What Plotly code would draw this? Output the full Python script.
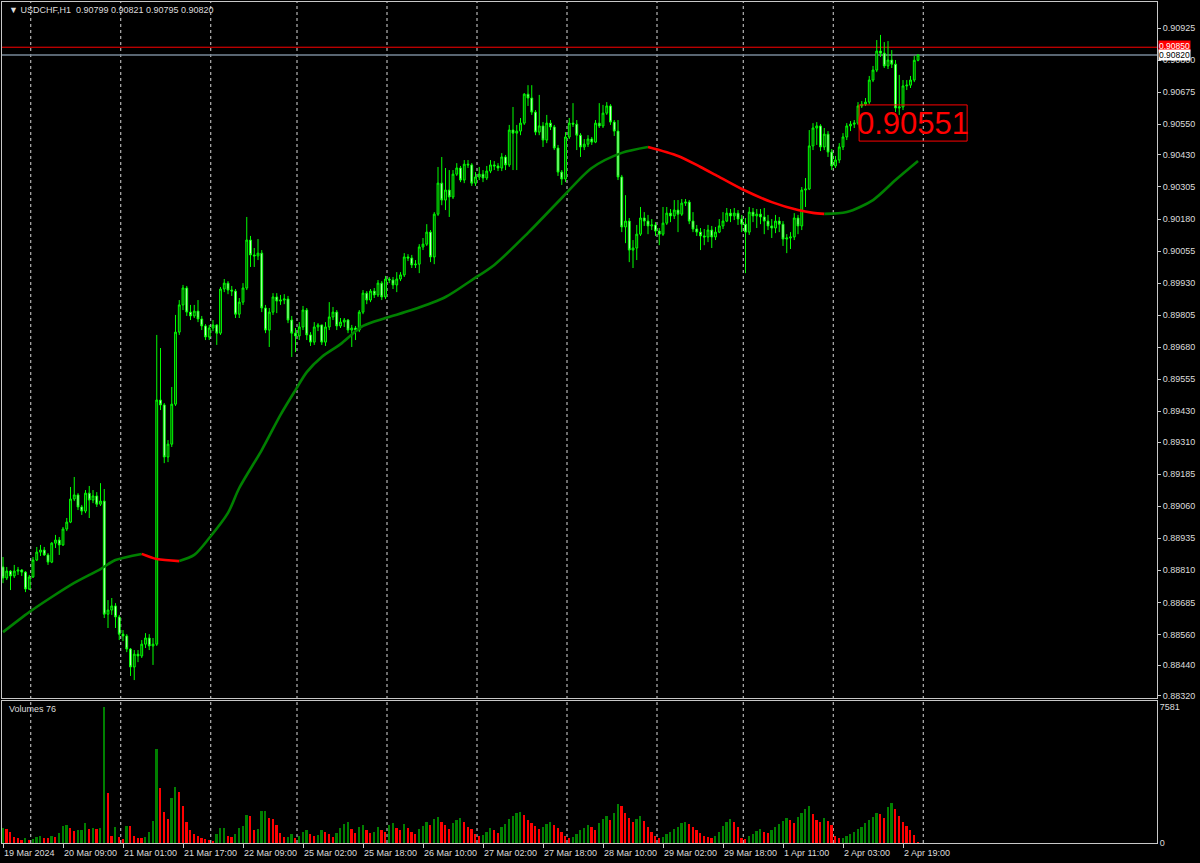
import plotly.graph_objects as go

# ---------------- data (prices in points, 1 point = 0.00001) ----------------
first_open_pts = 88823
closes_pts = [
    88780, 88807, 88788, 88807, 88811, 88803, 88737, 88784, 88850, 88881,
    88889, 88870, 88842, 88916, 88928, 88909, 88971, 88998, 89088, 89104,
    89057, 89041, 89111, 89084, 89100, 89068, 89080, 88639, 88655, 88671,
    88628, 88561, 88554, 88503, 88433, 88483, 88476, 88522, 88546, 88515,
    88522, 89474, 89455, 89252, 89302, 89458, 89739, 89845, 89911, 89817,
    89802, 89821, 89790, 89763, 89720, 89755, 89767, 89735, 89907, 89930,
    89903, 89899, 89809, 89856, 89911, 90098, 90040, 90036, 90047, 89833,
    89747, 89817, 89876, 89860, 89864, 89868, 89786, 89735, 89724, 89759,
    89825, 89728, 89700, 89759, 89767, 89700, 89759, 89798, 89817, 89763,
    89778, 89786, 89747, 89755, 89747, 89817, 89891, 89864, 89899, 89884,
    89930, 89876, 89946, 89942, 89923, 89946, 89962, 90032, 90028, 90001,
    90004, 90071, 90082, 90129, 90032, 90199, 90320, 90254, 90293, 90266,
    90355, 90379, 90332, 90394, 90391, 90320, 90344, 90355, 90340, 90367,
    90391, 90387, 90379, 90422, 90391, 90527, 90515, 90523, 90554, 90667,
    90652, 90597, 90519, 90543, 90488, 90554, 90539, 90457, 90363, 90336,
    90500, 90554, 90550, 90507, 90461, 90472, 90492, 90480, 90554, 90543,
    90593, 90621, 90558, 90523, 90344, 90149, 90172, 90059, 90067, 90121,
    90184, 90172, 90153, 90157, 90133, 90121, 90164, 90203, 90192, 90215,
    90199, 90242, 90246, 90172, 90141, 90129, 90114, 90110, 90137, 90110,
    90129, 90153, 90172, 90203, 90192, 90203, 90180, 90160, 90129, 90207,
    90192, 90199, 90188, 90172, 90153, 90145, 90172, 90160, 90102, 90106,
    90110, 90184, 90153, 90293, 90297, 90465, 90535, 90543, 90461, 90511,
    90441, 90387, 90410, 90461, 90500, 90543, 90550, 90554, 90621, 90628,
    90636, 90722, 90761, 90835, 90827, 90777, 90800, 90784, 90613, 90617,
    90699, 90702, 90722, 90799, 90820]
highs_pts = [
    88862, 88823, 88811, 88831, 88823, 88815, 88807, 88792, 88862, 88901,
    88909, 88901, 88877, 88920, 88948, 88940, 88979, 89014, 89135, 89174,
    89111, 89065, 89123, 89139, 89123, 89115, 89150, 89127, 88694, 88702,
    88682, 88636, 88577, 88561, 88507, 88499, 88499, 88538, 88565, 88561,
    88546, 89728, 89677, 89462, 89318, 89525, 89806, 89864, 89923, 89919,
    89845, 89845, 89864, 89802, 89770, 89767, 89786, 89770, 89915, 89946,
    89938, 89919, 89907, 89872, 89930, 90188, 90114, 90067, 90102, 90059,
    89845, 89833, 89891, 89891, 89884, 89887, 89880, 89802, 89755, 89778,
    89841, 89833, 89739, 89778, 89774, 89767, 89778, 89856, 89837, 89825,
    89794, 89794, 89790, 89767, 89763, 89825, 89903, 89899, 89907, 89911,
    89942, 89938, 89958, 89954, 89954, 89973, 89973, 90047, 90043, 90040,
    90020, 90082, 90106, 90160, 90137, 90207, 90383, 90422, 90379, 90371,
    90371, 90398, 90387, 90410, 90410, 90398, 90363, 90383, 90371, 90387,
    90410, 90406, 90398, 90437, 90430, 90547, 90617, 90547, 90574, 90671,
    90702, 90702, 90605, 90664, 90558, 90586, 90566, 90547, 90469, 90371,
    90519, 90574, 90632, 90566, 90515, 90492, 90507, 90500, 90566, 90632,
    90625, 90636, 90628, 90566, 90566, 90352, 90273, 90184, 90098, 90157,
    90227, 90207, 90196, 90180, 90168, 90145, 90227, 90227, 90219, 90254,
    90254, 90258, 90258, 90254, 90207, 90157, 90145, 90141, 90157, 90153,
    90149, 90180, 90207, 90223, 90219, 90223, 90215, 90196, 90184, 90227,
    90223, 90219, 90219, 90223, 90196, 90180, 90196, 90188, 90172, 90121,
    90129, 90203, 90196, 90305, 90340, 90527, 90554, 90558, 90550, 90535,
    90523, 90453, 90426, 90476, 90515, 90554, 90562, 90566, 90636, 90640,
    90652, 90738, 90777, 90878, 90898, 90870, 90874, 90839, 90800, 90742,
    90722, 90722, 90738, 90816, 90821]
lows_pts = [
    88760, 88772, 88733, 88780, 88792, 88788, 88725, 88733, 88780, 88846,
    88866, 88866, 88831, 88838, 88897, 88870, 88905, 88963, 88994, 89080,
    89045, 89026, 89033, 89014, 89072, 89057, 89061, 88624, 88585, 88636,
    88585, 88538, 88534, 88491, 88398, 88382, 88452, 88468, 88507, 88499,
    88441, 88515, 89435, 89228, 89232, 89291, 89451, 89728, 89825, 89802,
    89786, 89794, 89778, 89747, 89708, 89708, 89743, 89689, 89728, 89895,
    89887, 89880, 89794, 89794, 89845, 89903, 89993, 89993, 90020, 89817,
    89735, 89681, 89806, 89813, 89845, 89848, 89774, 89642, 89661, 89708,
    89747, 89708, 89685, 89689, 89743, 89689, 89685, 89747, 89786, 89747,
    89755, 89759, 89735, 89681, 89708, 89739, 89809, 89848, 89856, 89872,
    89876, 89864, 89868, 89930, 89907, 89895, 89938, 89954, 90016, 89989,
    89989, 89969, 90059, 90075, 90012, 90004, 90192, 90234, 90215, 90188,
    90258, 90348, 90324, 90320, 90379, 90309, 90309, 90332, 90324, 90332,
    90359, 90371, 90367, 90367, 90371, 90383, 90371, 90371, 90507, 90547,
    90621, 90586, 90507, 90507, 90461, 90476, 90527, 90449, 90348, 90313,
    90324, 90492, 90539, 90449, 90422, 90449, 90461, 90469, 90476, 90535,
    90535, 90586, 90547, 90504, 90332, 90129, 90086, 90012, 89989, 90020,
    90114, 90153, 90121, 90137, 90114, 90078, 90114, 90157, 90168, 90180,
    90129, 90192, 90231, 90160, 90129, 90114, 90059, 90078, 90090, 90067,
    90098, 90125, 90141, 90168, 90168, 90176, 90157, 90129, 89969, 90118,
    90168, 90145, 90160, 90121, 90137, 90106, 90125, 90129, 90075, 90047,
    90063, 90098, 90121, 90137, 90227, 90293, 90449, 90469, 90445, 90449,
    90422, 90371, 90379, 90398, 90449, 90488, 90523, 90535, 90547, 90613,
    90621, 90628, 90714, 90753, 90812, 90769, 90765, 90769, 90597, 90586,
    90605, 90683, 90691, 90714, 90795]
volumes = [
    850, 790, 620, 340, 280, 150, 300, 180, 250, 350,
    400, 300, 280, 400, 350, 570, 960, 990, 850, 680,
    700, 740, 1130, 800, 830, 810, 820, 7581, 2770, 400,
    900, 340, 200, 960, 950, 400, 300, 290, 340, 620,
    1250, 5260, 3060, 1750, 1360, 2500, 3110, 2830, 2040, 1190,
    750, 510, 400, 300, 200, 150, 120, 510, 830, 840,
    400, 350, 500, 830, 960, 1580, 1500, 700, 800, 1800,
    1810, 1400, 1320, 1000, 570, 340, 360, 500, 280,
    420, 600, 750, 520, 380, 450, 700, 620, 480, 350, 560, 820, 1050, 1150,
    760, 540, 880, 1020, 700, 560, 640,
    900, 750, 620, 980, 1120, 860, 700, 1050, 820, 640, 520, 760, 940, 1180,
    1020, 1350, 1450, 1200, 980, 760, 1100, 1300,
    1380, 1150, 900, 760, 500, 380, 450, 620, 840, 720, 560, 880, 1060, 1320,
    1480, 1650, 1720, 1540, 1280, 1100, 960, 780, 900, 1080,
    1200, 1000, 820, 640, 420, 300, 360, 520, 700, 860, 1020, 880, 700, 1100,
    1350, 1500, 1300, 1650, 2200, 2050, 1700, 1400, 1150, 1350, 1500, 1250,
    900, 600, 380, 260,
    340, 480, 620, 780, 900, 1100, 1200, 1050, 880, 720, 560, 420, 360, 300,
    420, 600, 950, 1200, 1350, 1150, 900, 300, 220, 400,
    520, 680, 760, 620, 540, 700, 880, 1050, 1250, 1400, 1300, 1100, 1450,
    1700, 1900, 2050, 1600, 1300, 1150, 1400, 1250, 1000,
    420, 260, 300, 380, 520, 640, 780, 900, 1100, 1300, 1450, 1700, 1600,
    1400, 2000, 2250, 1900, 1500, 1200, 950, 700, 450, 76]

# moving average (at these bar numbers)
ma_bars = [0, 7, 13, 19, 26, 30, 37, 41, 47, 51, 55, 60, 63, 69, 74, 78, 81, 85, 90, 96, 102,
           109, 118, 125, 131, 140, 149, 157, 165, 172, 180, 186, 190, 197, 205, 212, 216,
           219, 225, 232, 238, 244]
ma_values = [0.88569, 0.88647, 0.88706, 0.88761, 0.88815, 0.88850, 0.88874, 0.88854, 0.88846,
             0.88870, 0.88936, 0.89034, 0.89131, 0.89279, 0.89416, 0.89513, 0.89583, 0.89642,
             0.89692, 0.89763, 0.89794, 0.89825, 0.89876, 0.89942, 0.90001, 0.90126, 0.90262,
             0.90379, 0.90438, 0.90461, 0.90426, 0.90383, 0.90352, 0.90297, 0.90246, 0.90215,
             0.90204, 0.90200, 0.90207, 0.90254, 0.90332, 0.90406]

# time axis labels (bar number -> label)
label_bars = [0, 16, 32, 48, 64, 80, 96, 112, 128, 144, 160, 176, 192, 208, 224, 240]
label_texts = ["19 Mar 2024", "20 Mar 09:00", "21 Mar 01:00", "21 Mar 17:00", "22 Mar 09:00",
               "25 Mar 02:00", "25 Mar 18:00", "26 Mar 10:00", "27 Mar 02:00", "27 Mar 18:00",
               "28 Mar 10:00", "29 Mar 02:00", "29 Mar 18:00", "1 Apr 11:00", "2 Apr 03:00",
               "2 Apr 19:00"]
day_start_bars = [7, 31, 55, 78, 102, 126, 150, 174, 197, 221, 245]

price_ticks = [0.90925, 0.90800, 0.90675, 0.90550, 0.90430, 0.90305, 0.90180, 0.90055, 0.89930,
               0.89805, 0.89680, 0.89555, 0.89430, 0.89310, 0.89185, 0.89060, 0.88935, 0.88810,
               0.88685, 0.88560, 0.88440, 0.88320]
ask_price = 0.90850
bid_price = 0.90820
text_object_value = "0.90551"
text_object_price = 0.90551
header = "\u25BC USDCHF,H1  0.90799 0.90821 0.90795 0.90820"
volume_max = 7581

# ---------------- build ----------------
closes = [v / 1e5 for v in closes_pts]
opens = [first_open_pts / 1e5] + closes[:-1]
highs = [max(h / 1e5, o, c) for h, o, c in zip(highs_pts, opens, closes)]
lows = [min(l / 1e5, o, c) for l, o, c in zip(lows_pts, opens, closes)]
bars = list(range(len(closes)))

vol_colors = ['#008000'] + ['#008000' if volumes[i] > volumes[i - 1] else '#ff0000'
                            for i in range(1, len(volumes))]

FONT = "Liberation Sans, Arial, sans-serif"
FG = "#dcdcdc"
FRAME = "#c8c8c8"

fig = go.Figure()

fig.add_trace(go.Candlestick(
    x=bars, open=opens, high=highs, low=lows, close=closes,
    xaxis="x", yaxis="y",
    increasing=dict(line=dict(color="#00ff00", width=1), fillcolor="#003c00"),
    decreasing=dict(line=dict(color="#00ff00", width=1), fillcolor="#e8ffe8"),
    whiskerwidth=0, hoverinfo="skip", showlegend=False))

# moving average split into rising (green) / falling (red) runs
runs = []
cur = [0]
cur_dir = ma_values[1] >= ma_values[0]
for k in range(1, len(ma_bars)):
    d = ma_values[k] >= ma_values[k - 1]
    if d != cur_dir:
        runs.append((cur_dir, cur))
        cur = [k - 1]
        cur_dir = d
    cur.append(k)
runs.append((cur_dir, cur))
for rising, idx in runs:
    fig.add_trace(go.Scatter(
        x=[ma_bars[k] for k in idx], y=[ma_values[k] for k in idx],
        mode="lines", line=dict(color="#008000" if rising else "#ff0000",
                                width=2.6, shape="spline", smoothing=0.8),
        xaxis="x", yaxis="y", hoverinfo="skip", showlegend=False))

fig.add_trace(go.Bar(
    x=bars, y=volumes, marker=dict(color=vol_colors, line=dict(width=0)),
    width=0.45, xaxis="x2", yaxis="y2", hoverinfo="skip", showlegend=False))

x_range = [-0.267, 307.73]
shapes = []
for b in day_start_bars:
    shapes.append(dict(type="line", xref="x", yref="paper", x0=b + 0.4, x1=b + 0.4, y0=0, y1=1,
                       line=dict(color="#d8d8d8", width=1, dash="3px,3px"), layer="below"))
shapes.append(dict(type="line", xref="paper", yref="y", x0=0, x1=1, y0=ask_price, y1=ask_price,
                   line=dict(color="#ff0000", width=1), layer="below"))
shapes.append(dict(type="line", xref="paper", yref="y", x0=0, x1=1, y0=bid_price, y1=bid_price,
                   line=dict(color="#778899", width=1.5), layer="below"))
# text object frame
shapes.append(dict(type="rect", xref="x", yref="y", x0=228.3, x1=257.1, y0=0.90484, y1=0.90625,
                   line=dict(color="#ff0000", width=1), fillcolor="rgba(0,0,0,0)", layer="above"))

annotations = []
for b, t in zip(label_bars, label_texts):
    annotations.append(dict(x=b, y=0, xref="x2", yref="paper", text=t, showarrow=False,
                            xanchor="left", yanchor="top", xshift=-1, yshift=-3,
                            font=dict(family=FONT, size=9, color=FG)))
annotations.append(dict(x=0.004, y=0.9985, xref="paper", yref="paper", text=header,
                        showarrow=False, xanchor="left", yanchor="top",
                        font=dict(family=FONT, size=9, color=FG)))
annotations.append(dict(x=0.004, y=0.159, xref="paper", yref="paper", text="Volumes 76",
                        showarrow=False, xanchor="left", yanchor="middle",
                        font=dict(family=FONT, size=9, color=FG)))
annotations.append(dict(x=1, y=ask_price, xref="paper", yref="y", text="0.90850",
                        showarrow=False, xanchor="left", yanchor="middle", xshift=1, yshift=1,
                        bgcolor="#ff0000", borderpad=0,
                        font=dict(family=FONT, size=8.5, color="#ffffff")))
annotations.append(dict(x=1, y=bid_price, xref="paper", yref="y", text="0.90820",
                        showarrow=False, xanchor="left", yanchor="middle", xshift=1,
                        bgcolor="#ffffff", borderpad=0,
                        font=dict(family=FONT, size=8.5, color="#000000")))
annotations.append(dict(x=242.7, y=text_object_price, xref="x", yref="y", text=text_object_value,
                        showarrow=False, xanchor="center", yanchor="middle",
                        font=dict(family=FONT, size=31, color="#ff0000")))

fig.update_layout(
    width=1200, height=863,
    margin=dict(l=2, r=43, t=2, b=20),
    paper_bgcolor="#000000", plot_bgcolor="#000000",
    font=dict(family=FONT, color=FG, size=9),
    showlegend=False, bargap=0,
    xaxis=dict(domain=[0, 1], range=x_range, anchor="y", showgrid=False, zeroline=False,
               showticklabels=False, ticks="", showline=True, mirror=True, linecolor=FRAME,
               linewidth=1, rangeslider=dict(visible=False), fixedrange=True),
    yaxis=dict(domain=[0.1724, 1], range=[0.88312, 0.910264], side="right", anchor="x",
               tickvals=price_ticks, ticktext=[f"{v:.5f}" for v in price_ticks],
               ticks="outside", ticklen=3, tickcolor=FRAME, showgrid=False, zeroline=False,
               showline=True, mirror=True, linecolor=FRAME, linewidth=1,
               tickfont=dict(family=FONT, size=9, color=FG)),
    xaxis2=dict(domain=[0, 1], range=x_range, anchor="y2", matches="x", showgrid=False,
                zeroline=False, showticklabels=False, tickvals=label_bars, ticks="outside",
                ticklen=4, tickcolor=FRAME, showline=True, mirror=True, linecolor=FRAME,
                linewidth=1),
    yaxis2=dict(domain=[0, 0.1689], range=[0, 7915], side="right", anchor="x2",
                tickvals=[0, volume_max], ticktext=["0", str(volume_max)], ticks="",
                showgrid=False, zeroline=False, showline=True, mirror=True,
                linecolor=FRAME, linewidth=1, tickfont=dict(family=FONT, size=9, color=FG)),
    shapes=shapes, annotations=annotations,
)

fig.write_html("out.html", config={"displayModeBar": False},
               post_script="document.body.style.margin='0';document.body.style.overflow='hidden';")
